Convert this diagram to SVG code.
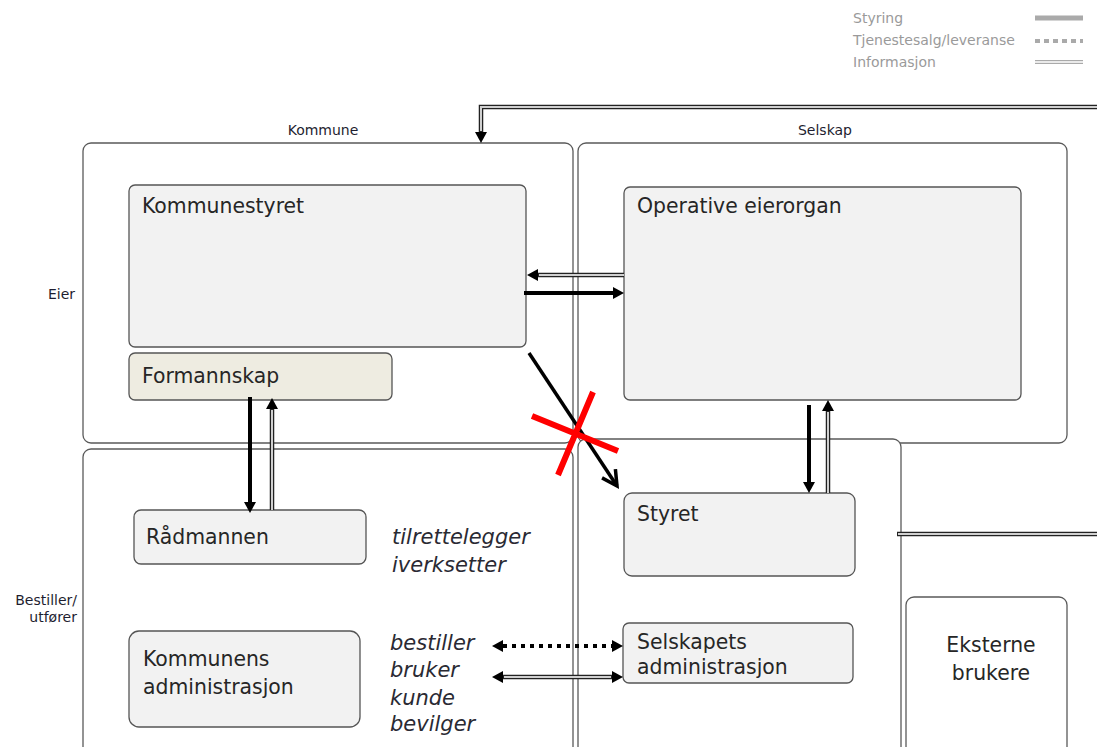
<svg xmlns="http://www.w3.org/2000/svg" width="1097" height="747" viewBox="0 0 1097 747">
<style>
.grp{fill:#fff;stroke:#5a5a5a;stroke-width:1.3}
.node{fill:#f2f2f2;stroke:#555;stroke-width:1.3}
.beige{fill:#eeece1}
.t{font-family:"DejaVu Sans",Verdana,sans-serif;font-size:20.4px;fill:#262626}
.it{font-family:"DejaVu Sans",Verdana,sans-serif;font-size:21px;font-style:italic;fill:#2a2a33}
.sm{font-family:"DejaVu Sans",Verdana,sans-serif;font-size:14px;fill:#1e1e30}
.lg{font-family:"DejaVu Sans",Verdana,sans-serif;font-size:14px;fill:#9a9a9a}
.thick{fill:none;stroke:#000;stroke-width:4}
.dbl-o{fill:none;stroke:#222;stroke-width:4.5}
.dbl-i{fill:none;stroke:#d0d0d0;stroke-width:2}
.dot{fill:none;stroke:#000;stroke-width:4;stroke-dasharray:4 5}
</style>
<defs>
<marker id="arr" viewBox="0 0 11 12" refX="0" refY="6" markerWidth="11" markerHeight="12" markerUnits="userSpaceOnUse" orient="auto-start-reverse">
<path d="M0,0 L11,6 L0,12 z" fill="#000"/>
</marker>
<marker id="chev" viewBox="0 0 20 20" refX="17" refY="10" markerWidth="20" markerHeight="20" markerUnits="userSpaceOnUse" orient="auto">
<path d="M2,2 L17,10 L2,18" fill="none" stroke="#000" stroke-width="3.5"/>
</marker>
</defs>
<rect width="1097" height="747" fill="#fff"/>

<g id="legend">
<text class="lg" x="853" y="23">Styring</text>
<text class="lg" x="853" y="45">Tjenestesalg/leveranse</text>
<text class="lg" x="853" y="67">Informasjon</text>
<path d="M1035,18 H1083" stroke="#aaa" stroke-width="5"/>
<path d="M1035,41 H1083" stroke="#aaa" stroke-width="4" stroke-dasharray="5 4"/>
<path d="M1035,62 H1083" stroke="#aaa" stroke-width="4"/>
<path d="M1035,62 H1083" stroke="#fff" stroke-width="1.5"/>
</g>

<g id="labels">
<text class="sm" x="323" y="135" text-anchor="middle">Kommune</text>
<text class="sm" x="825" y="135" text-anchor="middle">Selskap</text>
<text class="sm" x="75" y="299" text-anchor="end">Eier</text>
<text class="sm" x="77" y="605" text-anchor="end">Bestiller/</text>
<text class="sm" x="77" y="622" text-anchor="end">utfører</text>
</g>

<g id="kommune-eier"><rect class="grp" x="83" y="143" width="490" height="300" rx="8"/></g>
<g id="selskap-eier"><rect class="grp" x="578" y="143" width="489" height="300" rx="8"/></g>
<g id="kommune-bestiller"><rect class="grp" x="83" y="449" width="490" height="320" rx="8"/></g>
<g id="selskap-bestiller"><rect class="grp" x="578" y="439" width="323" height="330" rx="8"/></g>

<g id="kommunestyret">
<rect class="node" x="129" y="185" width="397" height="162" rx="6"/>
<text class="t" x="142" y="213">Kommunestyret</text>
</g>
<g id="formannskap">
<rect class="node beige" x="129" y="353" width="263" height="47" rx="6"/>
<text class="t" x="142" y="383">Formannskap</text>
</g>
<g id="operative-eierorgan">
<rect class="node" x="624" y="187" width="397" height="213" rx="6"/>
<text class="t" x="637" y="213">Operative eierorgan</text>
</g>
<g id="radmannen">
<rect class="node" x="134" y="510" width="232" height="54" rx="7"/>
<text class="t" x="146" y="544">Rådmannen</text>
</g>
<g id="kommunens-administrasjon">
<rect class="node" x="129" y="631" width="231" height="96" rx="10"/>
<text class="t" x="143" y="666">Kommunens</text>
<text class="t" x="143" y="694">administrasjon</text>
</g>
<g id="styret">
<rect class="node" x="624" y="493" width="231" height="83" rx="8"/>
<text class="t" x="637" y="521">Styret</text>
</g>
<g id="selskapets-administrasjon">
<rect class="node" x="623" y="623" width="230" height="60" rx="6"/>
<text class="t" x="637" y="649">Selskapets</text>
<text class="t" x="637" y="674">administrasjon</text>
</g>
<g id="eksterne-brukere">
<rect class="grp" x="906" y="597" width="161" height="170" rx="8"/>
<text class="t" x="991" y="652" text-anchor="middle">Eksterne</text>
<text class="t" x="991" y="680" text-anchor="middle">brukere</text>
</g>

<g id="roles">
<text class="it" x="392" y="544">tilrettelegger</text>
<text class="it" x="392" y="572">iverksetter</text>
<text class="it" x="390" y="650">bestiller</text>
<text class="it" x="390" y="677">bruker</text>
<text class="it" x="390" y="705">kunde</text>
<text class="it" x="390" y="731">bevilger</text>
</g>

<g id="connectors">
<path class="dbl-o" d="M1097,107 H481 V132" marker-end="url(#arr)"/>
<path class="dbl-i" d="M1097,107 H481 V131"/>
<path class="dbl-o" d="M624,275 H538" marker-end="url(#arr)"/>
<path class="dbl-i" d="M624,275 H539"/>
<path class="thick" d="M524,293 H613" marker-end="url(#arr)"/>
<path class="thick" d="M250,397 V502" marker-end="url(#arr)"/>
<path class="dbl-o" d="M272,510 V409" marker-end="url(#arr)"/>
<path class="dbl-i" d="M272,510 V410"/>
<path class="thick" d="M809,405 V482" marker-end="url(#arr)"/>
<path class="dbl-o" d="M828,493 V411" marker-end="url(#arr)"/>
<path class="dbl-i" d="M828,493 V412"/>
<path class="dbl-o" d="M897,534 H1097"/>
<path class="dbl-i" d="M898,534 H1097"/>
<path class="dot" d="M503,646 H612" marker-start="url(#arr)" marker-end="url(#arr)"/>
<path class="dbl-o" d="M503,677 H612" marker-start="url(#arr)" marker-end="url(#arr)"/>
<path class="dbl-i" d="M504,677 H611"/>
<path d="M529,353 L617,486" fill="none" stroke="#000" stroke-width="3.5" marker-end="url(#chev)"/>
<path d="M532,416 L618,451 M593,392 L558,475" stroke="#ff0000" stroke-width="6" fill="none"/>
</g>
</svg>
